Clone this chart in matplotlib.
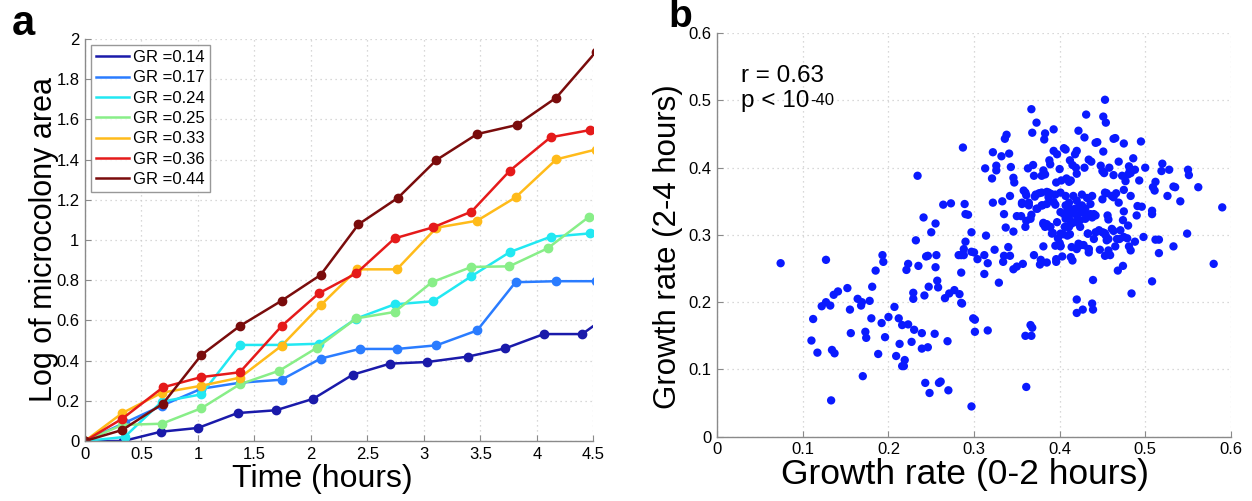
import matplotlib
matplotlib.use("Agg")
import matplotlib.pyplot as plt
import numpy as np

plt.rcParams['font.family'] = ['Liberation Sans', 'DejaVu Sans']

# ---------------- Panel a data ----------------
labels = ["GR =0.14", "GR =0.17", "GR =0.24", "GR =0.25", "GR =0.33", "GR =0.36", "GR =0.44"]
colors = ["#1a1aaa", "#2a7cff", "#22e8f2", "#88ee88", "#ffbb1a", "#e51a1a", "#7a0c0c"]

t_014 = [0, 0.34, 0.67, 1.0, 1.35, 1.69, 2.02, 2.37, 2.70, 3.03, 3.39, 3.72, 4.06, 4.40, 4.74]
y_014 = [0, 0.0, 0.046, 0.065, 0.139, 0.153, 0.21, 0.33, 0.385, 0.393, 0.42, 0.461, 0.532, 0.532, 0.67]
t_017 = [0, 0.35, 0.68, 1.03, 1.37, 1.74, 2.085, 2.43, 2.76, 3.11, 3.47, 3.81, 4.17, 4.52]
y_017 = [0, 0.09, 0.176, 0.26, 0.29, 0.305, 0.41, 0.458, 0.458, 0.476, 0.55, 0.79, 0.795, 0.795]
t_024 = [0, 0.35, 0.68, 1.03, 1.37, 1.74, 2.07, 2.40, 2.74, 3.08, 3.42, 3.76, 4.12, 4.47, 4.81]
y_024 = [0, 0.02, 0.196, 0.232, 0.478, 0.478, 0.484, 0.609, 0.68, 0.695, 0.82, 0.94, 1.016, 1.033, 1.06]
t_025 = [0, 0.33, 0.68, 1.03, 1.37, 1.72, 2.05, 2.40, 2.74, 3.07, 3.42, 3.755, 4.095, 4.457, 4.80]
y_025 = [0, 0.08, 0.086, 0.163, 0.282, 0.35, 0.463, 0.61, 0.642, 0.79, 0.866, 0.869, 0.959, 1.114, 1.2]
t_033 = [0, 0.33, 0.68, 1.03, 1.37, 1.74, 2.085, 2.41, 2.76, 3.11, 3.47, 3.81, 4.17, 4.52]
y_033 = [0, 0.139, 0.24, 0.275, 0.315, 0.474, 0.675, 0.854, 0.854, 1.061, 1.096, 1.212, 1.401, 1.45]
t_036 = [0, 0.33, 0.69, 1.03, 1.37, 1.74, 2.07, 2.40, 2.74, 3.08, 3.42, 3.76, 4.12, 4.47]
y_036 = [0, 0.111, 0.267, 0.318, 0.342, 0.572, 0.735, 0.834, 1.008, 1.063, 1.141, 1.345, 1.511, 1.547]
t_044 = [0, 0.33, 0.69, 1.03, 1.37, 1.74, 2.085, 2.42, 2.77, 3.11, 3.47, 3.82, 4.17, 4.52]
y_044 = [0, 0.055, 0.186, 0.428, 0.572, 0.698, 0.826, 1.078, 1.21, 1.398, 1.527, 1.572, 1.708, 1.935]

times = [t_014, t_017, t_024, t_025, t_033, t_036, t_044]
values = [y_014, y_017, y_024, y_025, y_033, y_036, y_044]

xticks_a = [0, 0.5, 1, 1.5, 2, 2.5, 3, 3.5, 4, 4.5]
xticklabels_a = ["0", "0.5", "1", "1.5", "2", "2.5", "3", "3.5", "4", "4.5"]
yticks_a = [0, 0.2, 0.4, 0.6, 0.8, 1, 1.2, 1.4, 1.6, 1.8, 2]
yticklabels_a = ["0", "0.2", "0.4", "0.6", "0.8", "1", "1.2", "1.4", "1.6", "1.8", "2"]

# ---------------- Panel b data ----------------
gr_early = [
    0.074, 0.127, 0.110, 0.112, 0.117, 0.122, 0.127, 0.132, 0.136, 0.141, 0.134, 0.137, 0.133, 0.152, 0.155,
    0.156, 0.164, 0.169, 0.168, 0.170, 0.173, 0.174, 0.178, 0.180, 0.181, 0.185, 0.188, 0.192, 0.193, 0.194,
    0.196, 0.200, 0.207, 0.209, 0.212, 0.213, 0.216, 0.216, 0.218, 0.219, 0.221, 0.223, 0.223, 0.227, 0.229,
    0.229, 0.230, 0.232, 0.235, 0.239, 0.239, 0.242, 0.243, 0.244, 0.246, 0.246, 0.247, 0.248, 0.250, 0.254,
    0.255, 0.256, 0.257, 0.258, 0.259, 0.261, 0.266, 0.269, 0.270, 0.271, 0.277, 0.282, 0.283, 0.285, 0.285,
    0.286, 0.285, 0.288, 0.290, 0.288, 0.297, 0.297, 0.299, 0.301, 0.301, 0.304, 0.297,
    0.234, 0.287, 0.264, 0.273, 0.289, 0.290, 0.293, 0.241, 0.255,
    0.453, 0.367, 0.431, 0.451, 0.454, 0.373, 0.368, 0.383, 0.393, 0.382, 0.422, 0.429, 0.338, 0.336, 0.322,
    0.332, 0.341, 0.313, 0.326, 0.326, 0.321, 0.343, 0.346, 0.347, 0.363, 0.369, 0.370, 0.381, 0.379, 0.383,
    0.388, 0.389, 0.393, 0.397, 0.405, 0.407, 0.420, 0.418, 0.400, 0.412, 0.415, 0.419, 0.413, 0.396, 0.402,
    0.408, 0.411, 0.420, 0.429, 0.434, 0.437, 0.442, 0.444, 0.451, 0.448, 0.450, 0.452, 0.458, 0.463, 0.465,
    0.475, 0.495, 0.469, 0.486, 0.481, 0.482, 0.488, 0.500, 0.463, 0.473, 0.477, 0.480, 0.483, 0.493, 0.520,
    0.519, 0.528, 0.550, 0.551, 0.512, 0.509, 0.511, 0.533, 0.535, 0.562, 0.526, 0.541, 0.590, 0.549, 0.533,
    0.580, 0.508, 0.484, 0.439, 0.420, 0.468, 0.474,
    0.300, 0.312, 0.314, 0.322, 0.333, 0.342, 0.335, 0.337, 0.346, 0.324, 0.316, 0.312, 0.335, 0.334, 0.340,
    0.342, 0.329, 0.346, 0.350, 0.357, 0.350, 0.355, 0.356, 0.358, 0.361, 0.364, 0.361, 0.360, 0.367, 0.366,
    0.370, 0.378, 0.377, 0.385, 0.381, 0.371, 0.376, 0.380, 0.374, 0.385, 0.387, 0.390, 0.385, 0.381, 0.389,
    0.392, 0.396, 0.396, 0.403, 0.400, 0.401, 0.398, 0.404, 0.406, 0.409, 0.412, 0.413, 0.415, 0.420, 0.425,
    0.428, 0.434, 0.434, 0.433, 0.440, 0.447, 0.452, 0.454, 0.455, 0.457, 0.453, 0.459, 0.465, 0.470, 0.479,
    0.481, 0.483, 0.488, 0.498, 0.512, 0.516, 0.516, 0.496, 0.491, 0.490, 0.508, 0.508, 0.480, 0.475, 0.474,
    0.471, 0.463, 0.456, 0.457, 0.455, 0.463, 0.466, 0.483, 0.475,
    0.401, 0.407, 0.409, 0.412, 0.418, 0.422, 0.426, 0.430, 0.436, 0.440, 0.436, 0.432, 0.426, 0.420, 0.416,
    0.411, 0.405, 0.407, 0.412, 0.418, 0.424, 0.430, 0.438, 0.442, 0.395, 0.393, 0.385, 0.379, 0.373, 0.364,
    0.356, 0.381, 0.383, 0.389, 0.397, 0.401, 0.409, 0.411, 0.414, 0.424, 0.433, 0.442, 0.446, 0.450, 0.453,
    0.457, 0.461, 0.467, 0.475, 0.434, 0.422, 0.414, 0.401, 0.391, 0.395,
    0.360, 0.372, 0.379, 0.387, 0.395, 0.401, 0.407, 0.416, 0.426, 0.432, 0.438, 0.450, 0.453, 0.461, 0.469,
    0.411, 0.420,
    0.420, 0.427, 0.438, 0.439, 0.367, 0.366, 0.368, 0.360, 0.361, 0.316,
]
gr_late = [
    0.258, 0.263, 0.143, 0.175, 0.125, 0.194, 0.200, 0.195, 0.211, 0.216, 0.129, 0.124, 0.054, 0.221, 0.189,
    0.154, 0.205, 0.200, 0.195, 0.090, 0.156, 0.147, 0.202, 0.176, 0.223, 0.247, 0.123, 0.169, 0.270, 0.260,
    0.148, 0.178, 0.193, 0.120, 0.176, 0.138, 0.166, 0.105, 0.105, 0.114, 0.248, 0.257, 0.167, 0.141, 0.214,
    0.205, 0.159, 0.292, 0.254, 0.154, 0.131, 0.210, 0.080, 0.268, 0.269, 0.133, 0.223, 0.065, 0.304, 0.153,
    0.252, 0.270, 0.232, 0.222, 0.080, 0.082, 0.206, 0.142, 0.069, 0.213, 0.218, 0.270, 0.212, 0.199, 0.270,
    0.198, 0.244, 0.279, 0.290, 0.270, 0.045, 0.275, 0.176, 0.174, 0.156, 0.264, 0.304,
    0.388, 0.430, 0.345, 0.347, 0.346, 0.331, 0.330, 0.326, 0.317,
    0.501, 0.487, 0.479, 0.476, 0.467, 0.467, 0.452, 0.451, 0.457, 0.442, 0.455, 0.445, 0.449, 0.443, 0.423,
    0.417, 0.421, 0.399, 0.403, 0.396, 0.384, 0.401, 0.385, 0.378, 0.399, 0.404, 0.388, 0.396, 0.388, 0.390,
    0.411, 0.405, 0.425, 0.420, 0.429, 0.427, 0.425, 0.420, 0.398, 0.411, 0.404, 0.400, 0.381, 0.378, 0.381,
    0.384, 0.379, 0.391, 0.400, 0.412, 0.409, 0.437, 0.438, 0.424, 0.403, 0.395, 0.392, 0.400, 0.443, 0.444,
    0.436, 0.439, 0.409, 0.414, 0.402, 0.396, 0.397, 0.400, 0.389, 0.388, 0.380, 0.390, 0.392, 0.381, 0.406,
    0.395, 0.397, 0.397, 0.389, 0.379, 0.371, 0.366, 0.372, 0.371, 0.371, 0.358, 0.350, 0.341, 0.302, 0.283,
    0.257, 0.231, 0.213, 0.233, 0.204, 0.247, 0.254,
    0.274, 0.270, 0.299, 0.348, 0.350, 0.358, 0.331, 0.311, 0.305, 0.278, 0.258, 0.242, 0.269, 0.260, 0.282,
    0.269, 0.229, 0.249, 0.253, 0.257, 0.328, 0.328, 0.348, 0.366, 0.359, 0.348, 0.321, 0.312, 0.330, 0.324,
    0.270, 0.263, 0.256, 0.259, 0.283, 0.357, 0.362, 0.344, 0.339, 0.364, 0.356, 0.361, 0.316, 0.316, 0.312,
    0.303, 0.264, 0.260, 0.268, 0.288, 0.283, 0.295, 0.301, 0.312, 0.312, 0.301, 0.267, 0.262, 0.279, 0.285,
    0.285, 0.279, 0.274, 0.302, 0.294, 0.278, 0.303, 0.299, 0.292, 0.277, 0.269, 0.270, 0.283, 0.294, 0.295,
    0.283, 0.277, 0.290, 0.297, 0.293, 0.293, 0.273, 0.342, 0.343, 0.329, 0.336, 0.331, 0.314, 0.335, 0.322,
    0.307, 0.306, 0.329, 0.323, 0.362, 0.356, 0.362, 0.358, 0.367,
    0.334, 0.344, 0.336, 0.339, 0.339, 0.341, 0.344, 0.339, 0.346, 0.331, 0.331, 0.329, 0.334, 0.329, 0.334,
    0.329, 0.331, 0.324, 0.322, 0.319, 0.322, 0.324, 0.326, 0.329, 0.345, 0.349, 0.346, 0.344, 0.339, 0.344,
    0.346, 0.318, 0.312, 0.312, 0.319, 0.302, 0.299, 0.312, 0.317, 0.312, 0.302, 0.304, 0.307, 0.304, 0.302,
    0.294, 0.309, 0.294, 0.297, 0.279, 0.287, 0.282, 0.284, 0.302, 0.284,
    0.363, 0.360, 0.363, 0.363, 0.360, 0.363, 0.358, 0.358, 0.360, 0.355, 0.358, 0.353, 0.363, 0.358, 0.348,
    0.348, 0.351,
    0.184, 0.189, 0.198, 0.189, 0.150, 0.166, 0.162, 0.150, 0.074, 0.158,
]

ticks_b = [0, 0.1, 0.2, 0.3, 0.4, 0.5, 0.6]
ticklabels_b = ["0", "0.1", "0.2", "0.3", "0.4", "0.5", "0.6"]

# ---------------- Figure ----------------
W, H = 1252, 501
fig = plt.figure(figsize=(W / 100, H / 100), dpi=100)

spine_col = "#8a8a8a"
grid_kw = dict(color="#cccccc", linestyle=(0, (1, 3)), linewidth=0.9)


def style_axes(ax):
    for s in ["top", "right"]:
        ax.spines[s].set_visible(False)
    for s in ["left", "bottom"]:
        ax.spines[s].set_color(spine_col)
        ax.spines[s].set_linewidth(1.0)
    ax.tick_params(direction="in", length=4, color=spine_col, labelsize=12, pad=4)
    ax.grid(True, **grid_kw)
    ax.set_axisbelow(True)


# Panel a
axa = fig.add_axes([85 / W, 1 - 441 / H, 508.5 / W, 402 / H])
style_axes(axa)
for t, v, c, lab in zip(times, values, colors, labels):
    axa.plot(t, v, color=c, linewidth=1.8, marker="o", markersize=6, label=lab, clip_on=True)
axa.set_xlim(0, 4.5)
axa.set_ylim(0, 2)
axa.set_xticks(xticks_a)
axa.set_xticklabels(xticklabels_a)
axa.set_yticks(yticks_a)
axa.set_yticklabels(yticklabels_a)
axa.set_xlabel("Time (hours)", fontsize=23)
axa.xaxis.set_label_coords(0.466, -0.058, transform=axa.transAxes)
axa.xaxis.label.set_va("top")
axa.set_ylabel("Log of microcolony area", fontsize=22)
axa.yaxis.set_label_coords(-0.052, 0.5, transform=axa.transAxes)
leg = axa.legend(loc="upper left", bbox_to_anchor=(0.012, 0.985), borderaxespad=0,
                 fontsize=12, handlelength=2.0, handletextpad=0.2, labelspacing=0.32,
                 fancybox=False, frameon=True, borderpad=0.3)
leg.get_frame().set_edgecolor("#7f7f7f")
leg.get_frame().set_linewidth(1.0)
for h in leg.legend_handles:
    h.set_marker("")

# Panel b
axb = fig.add_axes([717.3 / W, 1 - 436.7 / H, 513.5 / W, 403.5 / H])
style_axes(axb)
axb.scatter(gr_early, gr_late, s=36, color="#0a1aff", edgecolors="none", zorder=3)
axb.set_xlim(0, 0.6)
axb.set_ylim(0, 0.6)
axb.set_xticks(ticks_b)
axb.set_xticklabels(ticklabels_b)
axb.set_yticks(ticks_b)
axb.set_yticklabels(ticklabels_b)
axb.set_xlabel("Growth rate (0-2 hours)", fontsize=25.5)
axb.xaxis.set_label_coords(0.482, -0.052, transform=axb.transAxes)
axb.xaxis.label.set_va("top")
axb.set_ylabel("Growth rate (2-4 hours)", fontsize=22.5)
axb.yaxis.set_label_coords(-0.066, 0.47, transform=axb.transAxes)

axb.text(0.028, (436.7 - 81) / 674, "r = 0.63", fontsize=17.5, va="baseline", ha="left")
ptxt = axb.text(0.028, (436.7 - 106) / 674, "p < 10", fontsize=17.5, va="baseline", ha="left")

fig.text(12 / W, 1 - 35 / H, "a", fontsize=30, fontweight="bold", va="baseline", ha="left")
fig.text(668 / W, 1 - 27 / H, "b", fontsize=28, fontweight="bold", va="baseline", ha="left")

# superscript placed right after "10"
fig.canvas.draw()
bb = ptxt.get_window_extent(renderer=fig.canvas.get_renderer())
inv = fig.transFigure.inverted()
x1, ytop = inv.transform((bb.x1 + 1, bb.y1 - 3))
fig.text(x1, ytop, "-40", fontsize=12, va="top", ha="left")

fig.savefig("out.png", dpi=100)
